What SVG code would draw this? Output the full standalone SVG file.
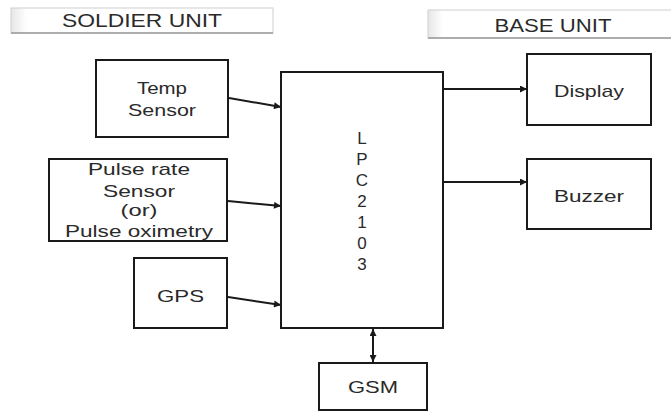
<svg xmlns="http://www.w3.org/2000/svg" width="671" height="411" viewBox="0 0 671 411">
<style>
.box{fill:#fff;stroke:#1a1a1a;stroke-width:2}
.t{font-family:"Liberation Sans",Arial,sans-serif;font-size:17px;fill:#2a2a2a;text-anchor:middle}
.bt{font-family:"Liberation Sans",Arial,sans-serif;font-size:19px;fill:#2a2a2a;text-anchor:middle}
.ban{fill:url(#bg);stroke:#cfcfcf;stroke-width:1}
.ln{stroke:#1a1a1a;stroke-width:2;fill:none}
</style>
<defs>
<linearGradient id="bg" x1="0" y1="0" x2="1" y2="0">
<stop offset="0" stop-color="#e6e6e6"/>
<stop offset="0.06" stop-color="#ffffff"/>
<stop offset="1" stop-color="#ffffff"/>
</linearGradient>
<marker id="ah" viewBox="0 0 10 10" refX="10" refY="5" markerWidth="9" markerHeight="7" markerUnits="userSpaceOnUse" orient="auto-start-reverse">
<path d="M0,0 L10,5 L0,10 z" fill="#1a1a1a"/>
</marker>
</defs>
<rect width="671" height="411" fill="#fff"/>

<g id="soldier-unit">
<rect class="ban" x="11" y="8" width="262" height="25"/>
<line x1="11" y1="33" x2="273" y2="33" stroke="#9a9a9a" stroke-width="1.5"/>
<text class="bt" x="142" y="27" textLength="160" lengthAdjust="spacingAndGlyphs">SOLDIER UNIT</text>
</g>

<g id="base-unit">
<rect class="ban" x="428" y="10" width="250" height="28"/>
<line x1="428" y1="38" x2="671" y2="38" stroke="#9a9a9a" stroke-width="1.5"/>
<text class="bt" x="553" y="32" textLength="117" lengthAdjust="spacingAndGlyphs">BASE UNIT</text>
</g>

<g id="temp-sensor">
<rect class="box" x="96" y="60" width="132" height="77"/>
<text class="t" x="162" y="94" textLength="50" lengthAdjust="spacingAndGlyphs">Temp</text>
<text class="t" x="162" y="116" textLength="68" lengthAdjust="spacingAndGlyphs">Sensor</text>
</g>

<g id="pulse-sensor">
<rect class="box" x="49" y="159" width="178" height="82"/>
<text class="t" x="139" y="175" textLength="102" lengthAdjust="spacingAndGlyphs">Pulse rate</text>
<text class="t" x="139" y="197" textLength="72" lengthAdjust="spacingAndGlyphs">Sensor</text>
<text class="t" x="139" y="216" textLength="37" lengthAdjust="spacingAndGlyphs">(or)</text>
<text class="t" x="139" y="237" textLength="148" lengthAdjust="spacingAndGlyphs">Pulse oximetry</text>
</g>

<g id="gps">
<rect class="box" x="134" y="258" width="93" height="70"/>
<text class="t" x="180.5" y="302" textLength="47" lengthAdjust="spacingAndGlyphs">GPS</text>
</g>

<g id="lpc2103">
<rect class="box" x="281" y="72" width="162" height="256"/>
<text class="t" x="362" y="144">L</text>
<text class="t" x="362" y="165">P</text>
<text class="t" x="362" y="186">C</text>
<text class="t" x="362" y="207">2</text>
<text class="t" x="362" y="228">1</text>
<text class="t" x="362" y="249">0</text>
<text class="t" x="362" y="270">3</text>
</g>

<g id="display">
<rect class="box" x="527" y="54" width="124" height="71"/>
<text class="t" x="589" y="97" textLength="70" lengthAdjust="spacingAndGlyphs">Display</text>
</g>

<g id="buzzer">
<rect class="box" x="527" y="159" width="124" height="70"/>
<text class="t" x="589" y="202" textLength="70" lengthAdjust="spacingAndGlyphs">Buzzer</text>
</g>

<g id="gsm">
<rect class="box" x="319" y="363" width="108" height="47"/>
<text class="t" x="373" y="393" textLength="50" lengthAdjust="spacingAndGlyphs">GSM</text>
</g>

<g id="connectors">
<line class="ln" x1="229" y1="98" x2="281" y2="107" marker-end="url(#ah)"/>
<line class="ln" x1="228" y1="201" x2="281" y2="206" marker-end="url(#ah)"/>
<line class="ln" x1="228" y1="297" x2="281" y2="305" marker-end="url(#ah)"/>
<line class="ln" x1="443" y1="89" x2="527" y2="89" marker-end="url(#ah)"/>
<line class="ln" x1="443" y1="182" x2="527" y2="182" marker-end="url(#ah)"/>
<line class="ln" x1="373" y1="329" x2="373" y2="362" marker-start="url(#ah)" marker-end="url(#ah)"/>
</g>
</svg>
